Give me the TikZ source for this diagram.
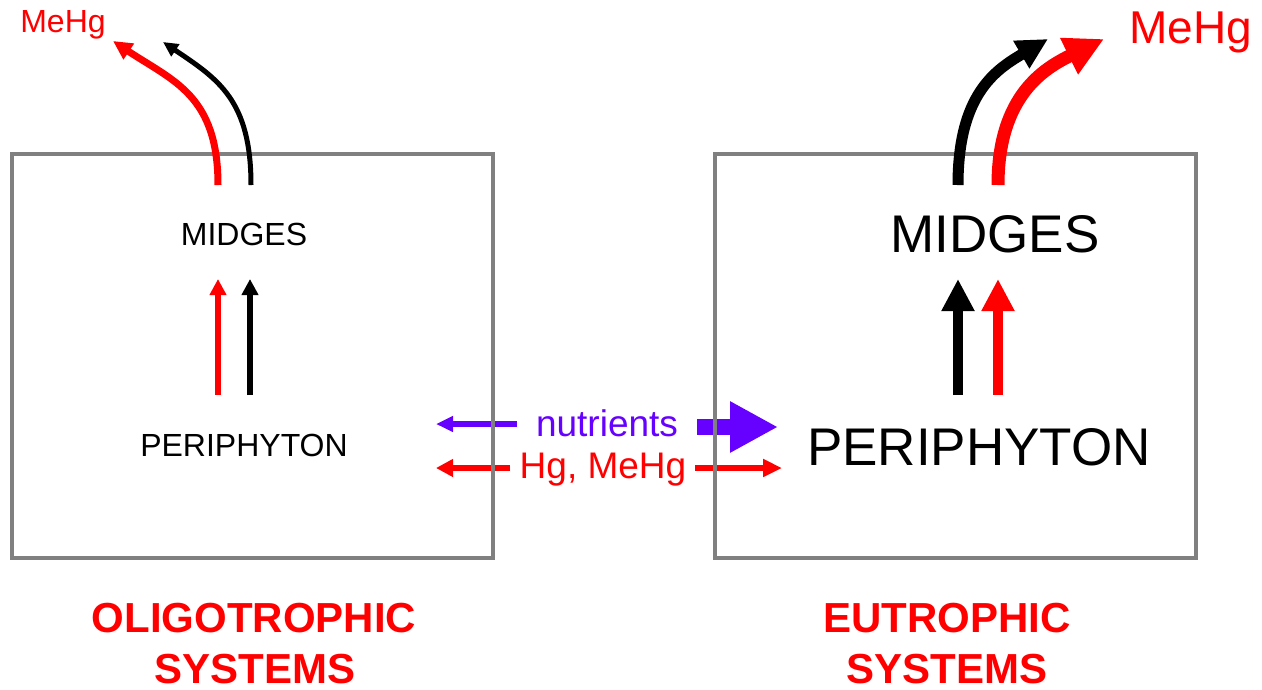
\documentclass[tikz,border=0pt]{standalone}
\usepackage{fontspec}
\setmainfont{Liberation Sans}
\usetikzlibrary{arrows.meta}
\definecolor{boxgray}{HTML}{808080}
\definecolor{hgred}{HTML}{FF0000}
\definecolor{nutpurple}{HTML}{6600FF}

\begin{document}
\begin{tikzpicture}[x=1pt,y=-1pt,
  lbl/.style={inner sep=0pt, anchor=base},
  smalltxt/.style={lbl, font=\fontsize{32}{38}\selectfont},
  bigtxt/.style={lbl, font=\fontsize{53}{63}\selectfont},
  systxt/.style={lbl, text=hgred, font=\fontsize{42}{50}\selectfont\bfseries},
  sysbox/.style={draw=boxgray, line width=4pt, minimum width=481pt,
    minimum height=404pt, inner sep=0pt},
  thinflow/.style={line width=6pt, -{Triangle[length=16pt,width=16pt]}},
  fatflow/.style={line width=10pt, -{Triangle[length=32pt,width=31pt]}},
]
\useasboundingbox (0,0) rectangle (1262,689);

% ---------- texts ----------
\node[smalltxt] (midL) at (244,245) {MIDGES};
\node[smalltxt] (perL) at (244,456) {PERIPHYTON};
\node[smalltxt, text=hgred] (mehgL) at (63,32) {MeHg};
\node[bigtxt] (midR) at (995,252) {MIDGES};
\node[bigtxt] (perR) at (979,465) {PERIPHYTON};
\node[lbl, text=hgred, font=\fontsize{46}{55}\selectfont] (mehgR) at (1191,43) {MeHg};
\node[lbl, text=nutpurple, font=\fontsize{37}{44}\selectfont] (nut) at (607,436) {nutrients};
\node[lbl, text=hgred, font=\fontsize{37}{44}\selectfont] (hg) at (603,478) {Hg, MeHg};
\node[systxt] (oligoA) at (254,632) {OLIGOTROPHIC};
\node[systxt] (oligoB) at (255,683) {SYSTEMS};
\node[systxt] (eutroA) at (947,632) {EUTROPHIC};
\node[systxt] (eutroB) at (947,683) {SYSTEMS};

% ---------- exchange between the two systems ----------
\coordinate (nutLs) at (517,424);
\coordinate (nutLe) at (436,424);
\coordinate (nutRs) at (697,427);
\coordinate (nutRe) at (778,427);
\coordinate (hgLs) at (510,468);
\coordinate (hgLe) at (436,468);
\coordinate (hgRs) at (695,468);
\coordinate (hgRe) at (782,468);
\draw[nutpurple, line width=6pt, -{Triangle[length=17pt,width=15pt]}] (nutLs) -- (nutLe);
\draw[nutpurple, line width=16pt, -{Triangle[length=48pt,width=48pt]}] (nutRs) -- (nutRe);
\draw[hgred, line width=6pt, -{Triangle[length=17pt,width=17pt]}] (hgLs) -- (hgLe);
\draw[hgred, line width=6pt, -{Triangle[length=19pt,width=17pt]}] (hgRs) -- (hgRe);

% ---------- system boxes ----------
\node[sysbox] (boxL) at (252.5,356) {};
\node[sysbox] (boxR) at (955.5,356) {};

% ---------- periphyton to midges ----------
\coordinate (upLr0) at (218,395); \coordinate (upLr1) at (218,279);
\coordinate (upLk0) at (250,395); \coordinate (upLk1) at (250,279);
\coordinate (upRk0) at (958,395); \coordinate (upRk1) at (958,279);
\coordinate (upRr0) at (998,395); \coordinate (upRr1) at (998,279);
\draw[hgred, thinflow] (upLr0) -- (upLr1);
\draw[black, thinflow] (upLk0) -- (upLk1);
\draw[black, fatflow] (upRk0) -- (upRk1);
\draw[hgred, fatflow] (upRr0) -- (upRr1);

% ---------- export out of the systems ----------
\coordinate (exLr0) at (218,185); \coordinate (exLr1) at (113,41);
\coordinate (exLk0) at (251,185); \coordinate (exLk1) at (163,42);
\coordinate (exRk0) at (958,185); \coordinate (exRk1) at (1048,39);
\coordinate (exRr0) at (998,185); \coordinate (exRr1) at (1104,39);
\draw[hgred, line width=7pt, -{Triangle[length=19pt,width=18pt]}]
  (exLr0) .. controls (218,95) and (173,81) .. (exLr1);
\draw[black, line width=5pt, -{Triangle[length=15pt,width=14pt]}]
  (exLk0) .. controls (251,100) and (218,79) .. (exLk1);
\draw[black, line width=11pt, -{Triangle[length=31pt,width=30pt]}]
  (exRk0) .. controls (958,95) and (995,70) .. (exRk1);
\draw[hgred, line width=13pt, -{Triangle[length=39pt,width=38pt]}]
  (exRr0) .. controls (998,95) and (1045,68) .. (exRr1);
\end{tikzpicture}
\end{document}
